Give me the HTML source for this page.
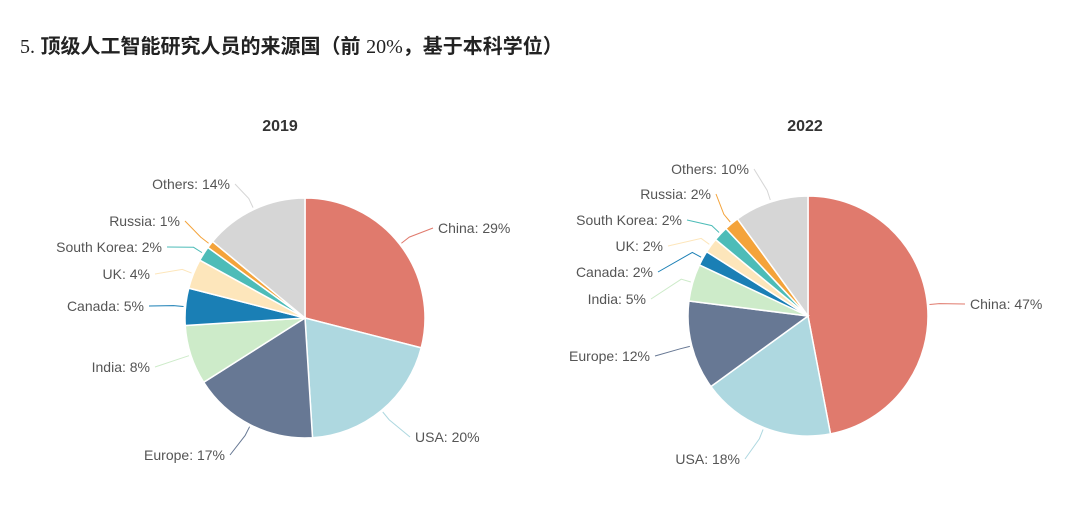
<!DOCTYPE html>
<html><head><meta charset="utf-8"><style>
body{margin:0;background:#fff;width:1080px;height:518px;overflow:hidden}
.t{position:absolute;left:20px;top:30px;font:bold 20px "Liberation Sans","Noto Sans CJK SC",sans-serif;color:#222}
svg text{font-family:"Liberation Sans","DejaVu Sans",sans-serif;font-size:14px;fill:#555}
</style></head><body>
<div class="t"><span style="font-family:'Liberation Serif',serif;font-weight:normal">5.</span> 顶级人工智能研究人员的来源国（前 <span style="font-family:'Liberation Serif',serif;font-weight:normal">20%</span>，基于本科学位）</div>
<svg id="s" width="1080" height="518" style="position:absolute;left:0;top:0">
<text x="280" y="131" text-anchor="middle" style="font-weight:bold;font-size:16px;fill:#333">2019</text>
<text x="805" y="131" text-anchor="middle" style="font-weight:bold;font-size:16px;fill:#333">2022</text>
<g id="g"></g>
<text x="438" y="233">China: 29%</text>
<text x="415" y="442">USA: 20%</text>
<text x="225" y="460" text-anchor="end">Europe: 17%</text>
<text x="150" y="372" text-anchor="end">India: 8%</text>
<text x="144" y="311" text-anchor="end">Canada: 5%</text>
<text x="150" y="279" text-anchor="end">UK: 4%</text>
<text x="162" y="252" text-anchor="end">South Korea: 2%</text>
<text x="180" y="226" text-anchor="end">Russia: 1%</text>
<text x="230" y="189" text-anchor="end">Others: 14%</text>
<text x="970" y="309">China: 47%</text>
<text x="740" y="464" text-anchor="end">USA: 18%</text>
<text x="650" y="361" text-anchor="end">Europe: 12%</text>
<text x="646" y="304" text-anchor="end">India: 5%</text>
<text x="653" y="277" text-anchor="end">Canada: 2%</text>
<text x="663" y="251" text-anchor="end">UK: 2%</text>
<text x="682" y="225" text-anchor="end">South Korea: 2%</text>
<text x="711" y="199" text-anchor="end">Russia: 2%</text>
<text x="749" y="174" text-anchor="end">Others: 10%</text>
</svg>
<script>
var C=['#e07a6d','#aed8e0','#677894','#cdebc9','#1a7fb5','#fde6bb','#4dbcb8','#f4a33a','#d6d6d6'];
var P=[{cx:305,cy:318,r:120,v:[29,20,17,8,5,4,2,1,14],L:[[433,228],[410,437],[230,455],[155,367],[149,306],[155,274],[167,247],[185,221],[235,184]]},
{cx:808,cy:316,r:120,v:[47,18,12,5,2,2,2,2,10],L:[[965,304],[745,459],[655,356],[651,299],[658,272],[668,246],[687,220],[716,194],[754,169]]}];
var h='';
P.forEach(function(p){var a=0;p.v.forEach(function(v,i){var a0=a/100*2*Math.PI,a1=(a+v)/100*2*Math.PI,m=(a0+a1)/2;a+=v;
function pt(t,r){return [p.cx+r*Math.sin(t),p.cy-r*Math.cos(t)]}
var s=pt(a0,p.r),e=pt(a1,p.r);
h+='<path d="M'+p.cx+','+p.cy+'L'+s+'A'+p.r+','+p.r+' 0 '+(v>50?1:0)+' 1 '+e+'Z" fill="'+C[i]+'" stroke="#fff" stroke-width="1.5"/>';
var q=pt(m,p.r+2),q2=pt(m,p.r+12),l=p.L[i];
h+='<path d="M'+q+'L'+q2+'L'+l+'" fill="none" stroke="'+C[i]+'" stroke-width="1"/>';});});
document.getElementById('g').innerHTML=h;
</script>
</body></html>
